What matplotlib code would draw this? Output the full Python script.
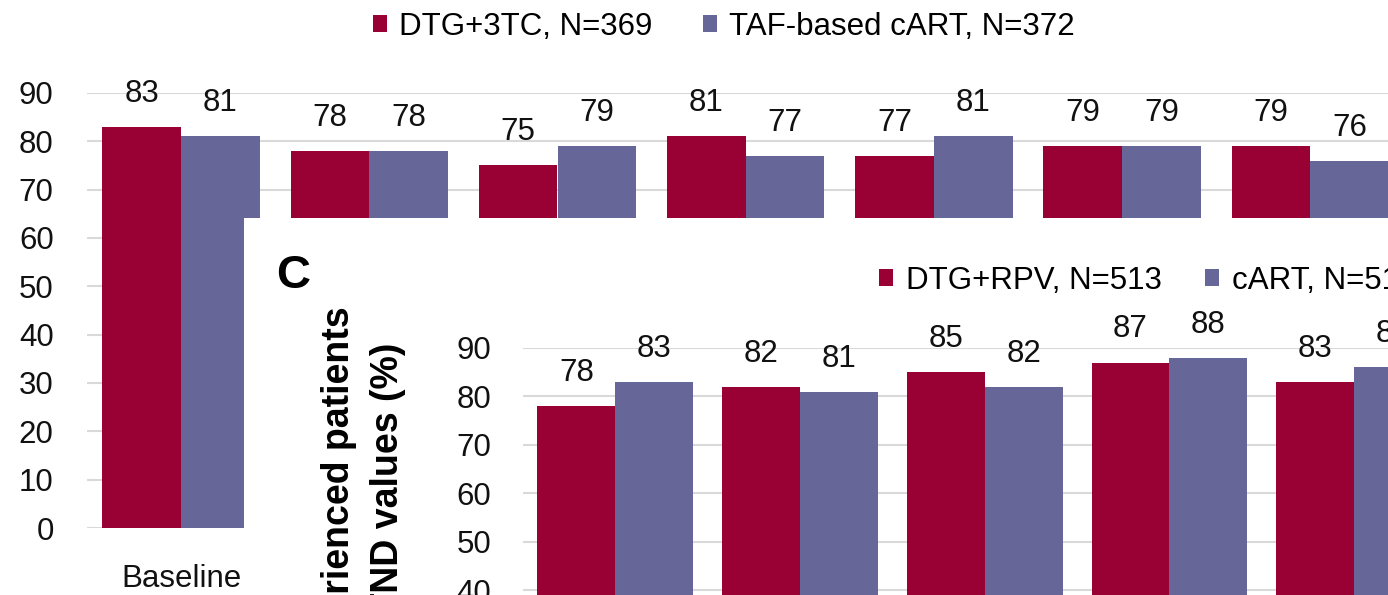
import matplotlib
matplotlib.use("Agg")
import matplotlib.pyplot as plt
import numpy as np
from matplotlib.patches import Rectangle

plt.rcParams["font.family"] = ["Liberation Sans", "DejaVu Sans"]

RED = "#990033"
BLUE = "#666699"
GRID = "#d9d9d9"
FS = 22.5

# Panel B (background)
b_categories = ["Baseline", "Week 4", "Week 12", "Week 24", "Week 36", "Week 48", "Week 72"]
b_dtg_3tc = [83, 78, 75, 81, 77, 79, 79]
b_taf = [81, 78, 79, 77, 81, 79, 76]
b_labels = ["DTG+3TC, N=369", "TAF-based cART, N=372"]

# Panel C (overlay)
c_categories = ["Baseline", "Week 4", "Week 12", "Week 24", "Week 48"]
c_dtg_rpv = [78, 82, 85, 87, 83]
c_cart = [83, 81, 82, 88, 86]
c_labels = ["DTG+RPV, N=513", "cART, N=513"]

W, H = 1388, 595
fig = plt.figure(figsize=(W / 100, H / 100), dpi=100)


def px_axes(left, right, top, bottom):
    # pixel box -> figure fraction
    return [left / W, 1 - bottom / H, (right - left) / W, (bottom - top) / H]


def style_axes(ax, pad_y, pad_x):
    for s in ax.spines.values():
        s.set_visible(False)
    ax.set_ylim(0, 90)
    ax.set_yticks(range(0, 100, 10))
    ax.yaxis.grid(True, color=GRID, linewidth=1.5)
    ax.set_axisbelow(True)
    ax.tick_params(axis="y", length=0, pad=pad_y, labelsize=FS, colors="#111111")
    ax.tick_params(axis="x", length=0, pad=pad_x, labelsize=FS, colors="#111111")


def grouped_bars(ax, a, b, width):
    x = np.arange(len(a))
    r1 = ax.bar(x - width / 2, a, width, color=RED, linewidth=0)
    r2 = ax.bar(x + width / 2, b, width, color=BLUE, linewidth=0)
    for rects in (r1, r2):
        ax.bar_label(rects, padding=13, fontsize=FS, color="#111111")
    return x, r1, r2


# ---- panel B ----
b_step = 188.2
axb = fig.add_axes(px_axes(87, 1550, 93, 528), zorder=0)
xb, rb1, rb2 = grouped_bars(axb, b_dtg_3tc, b_taf, 0.418)
axb.set_xlim(-0.5, -0.5 + (1550 - 87) / b_step)
axb.set_xticks(xb)
axb.set_xticklabels(b_categories)
style_axes(axb, 24, 26)
# only "Baseline" shows from under the panel C overlay
for lbl in axb.get_xticklabels()[1:]:
    lbl.set_visible(False)

fig.legend([rb1, rb2], b_labels, loc="center", bbox_to_anchor=(724 / W, 1 - 27 / H),
           ncol=2, frameon=False, fontsize=FS, handlelength=0.45, handleheight=0.45,
           handletextpad=0.4, columnspacing=1.6)

# ---- white overlay for panel C ----
fig.patches.append(Rectangle((244 / W, 0), 1 - 244 / W, (H - 218) / H,
                             transform=fig.transFigure, facecolor="white",
                             edgecolor="none", zorder=1))

# ---- panel C ----
c_step = 184.7
axc = fig.add_axes(px_axes(523, 1550, 348, 784), zorder=2)
axc.patch.set_alpha(0)
xc, rc1, rc2 = grouped_bars(axc, c_dtg_rpv, c_cart, 0.422)
axc.set_xlim(-0.5, -0.5 + (1550 - 523) / c_step)
axc.set_xticks(xc)
axc.set_xticklabels(c_categories)
style_axes(axc, 23, 26)

leg_c = fig.legend([rc1, rc2], c_labels, loc="center left", bbox_to_anchor=(851 / W, 1 - 281 / H),
                   ncol=2, frameon=False, fontsize=FS, handlelength=0.45, handleheight=0.45,
                   handletextpad=0.4, columnspacing=1.4)
leg_c.set_zorder(3)

fig.text(276 / W, 1 - 254 / H, "C", fontsize=34, fontweight="bold", ha="left", va="top", zorder=3)
fig.text(339 / W, 1 - 306 / H, "Treatment-experienced patients", rotation=90,
         fontsize=27, fontweight="bold", ha="center", va="top", zorder=3)
fig.text(388 / W, 1 - 343 / H, "with TND values (%)", rotation=90,
         fontsize=27, fontweight="bold", ha="center", va="top", zorder=3)

fig.savefig("out.png", dpi=100)
